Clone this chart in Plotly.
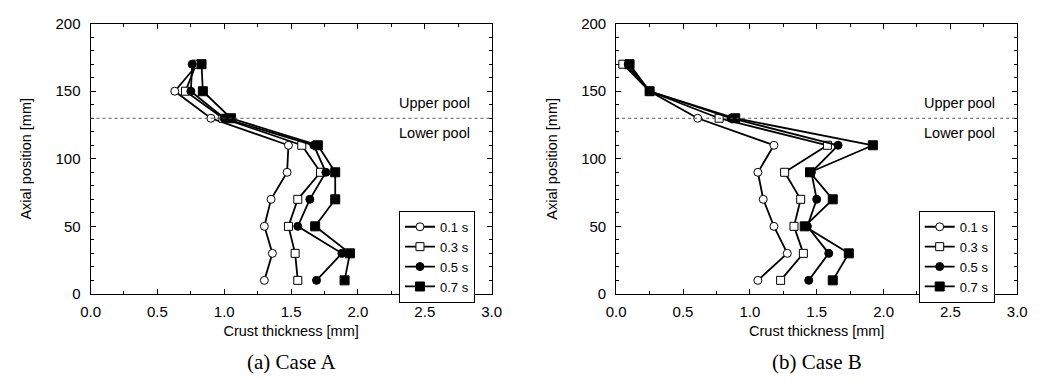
import plotly.graph_objects as go

axial = [170, 150, 130, 110, 90, 70, 50, 30, 10]
series_names = ["0.1 s", "0.3 s", "0.5 s", "0.7 s"]

case_a = {
    "0.1 s": [0.80, 0.63, 0.90, 1.48, 1.47, 1.35, 1.30, 1.36, 1.30],
    "0.3 s": [0.79, 0.71, 0.99, 1.58, 1.72, 1.55, 1.48, 1.53, 1.55],
    "0.5 s": [0.76, 0.75, 1.00, 1.67, 1.76, 1.64, 1.55, 1.88, 1.69],
    "0.7 s": [0.83, 0.84, 1.05, 1.70, 1.83, 1.83, 1.68, 1.94, 1.90],
}
case_b = {
    "0.1 s": [0.07, 0.25, 0.61, 1.18, 1.06, 1.10, 1.18, 1.28, 1.06],
    "0.3 s": [0.05, 0.25, 0.77, 1.58, 1.26, 1.38, 1.33, 1.40, 1.23],
    "0.5 s": [0.09, 0.25, 0.86, 1.66, 1.46, 1.50, 1.43, 1.59, 1.44],
    "0.7 s": [0.10, 0.25, 0.89, 1.92, 1.45, 1.62, 1.41, 1.74, 1.62],
}
pool_boundary = 130
captions = ["(a) Case A", "(b) Case B"]

styles = {
    "0.1 s": dict(symbol="circle", color="white", size=8),
    "0.3 s": dict(symbol="square", color="white", size=8),
    "0.5 s": dict(symbol="circle", color="black", size=8),
    "0.7 s": dict(symbol="square", color="black", size=9),
}

# page has an 8px body margin; figure coordinates = page coordinates - 8
OFF = 8
W, H = 1032, 376
FONT = "Liberation Sans, Arial, sans-serif"


def px(x):
    return (x - OFF) / W


def py(y):
    return 1 - (y - OFF) / H


fig = go.Figure()

panels = [
    dict(data=case_a, xa="x", ya="y", legend="legend", x0=82, x1=491, lg=474),
    dict(data=case_b, xa="x2", ya="y2", legend="legend2", x0=618, x1=1027, lg=1004),
]
y_top, y_bot = 15, 298

for p in panels:
    for name in series_names:
        st = styles[name]
        fig.add_trace(go.Scatter(
            x=p["data"][name], y=axial, mode="lines+markers", name=name,
            xaxis=p["xa"], yaxis=p["ya"], legend=p["legend"],
            line=dict(color="black", width=1.8),
            marker=dict(symbol=st["symbol"], size=st["size"], color=st["color"],
                        line=dict(color="black", width=1)),
        ))

axis_common = dict(
    showline=True, linecolor="black", linewidth=1, mirror="ticks",
    ticks="inside", ticklen=5, tickcolor="black", showgrid=False, zeroline=False,
    tickfont=dict(family=FONT, size=15, color="black"),
    ticklabeloverflow="allow",
)
ydom = [py(y_bot), py(y_top)]

layout = dict(
    width=W, height=H, margin=dict(l=0, r=0, t=0, b=0),
    paper_bgcolor="white", plot_bgcolor="white",
    font=dict(family=FONT, color="black"),
)
for i, p in enumerate(panels):
    sfx = "" if i == 0 else "2"
    layout["xaxis" + sfx] = dict(
        axis_common, domain=[px(p["x0"]), px(p["x1"])], range=[0, 3], dtick=0.5,
        tickformat=".1f", anchor="y" + sfx, ticklabelstandoff=4,
        minor=dict(dtick=0.25, ticks="inside", ticklen=3, tickcolor="black"),
        title=dict(text="Crust thickness [mm]", font=dict(family=FONT, size=14.5), standoff=6),
    )
    layout["yaxis" + sfx] = dict(
        axis_common, domain=ydom, range=[0, 200], dtick=50, anchor="x" + sfx,
        ticklabelstandoff=6,
        minor=dict(dtick=10, ticks="inside", ticklen=3, tickcolor="black"),
        title=dict(text="Axial position [mm]", font=dict(family=FONT, size=14.5), standoff=20),
    )
    layout["legend" + ("" if i == 0 else "2")] = dict(
        x=px(p["lg"]), xanchor="right", y=py(211), yanchor="top",
        bgcolor="white", bordercolor="black", borderwidth=1,
        font=dict(family=FONT, size=13, color="black"),
        tracegroupgap=0, itemwidth=30,
    )

fig.update_layout(**layout)

shapes, annotations = [], []
for i, p in enumerate(panels):
    sfx = "" if i == 0 else "2"
    shapes.append(dict(type="line", xref="x" + sfx, yref="y" + sfx, x0=0, x1=3,
                       y0=pool_boundary, y1=pool_boundary,
                       line=dict(color="#555555", width=1, dash="dot")))
    annotations.append(dict(xref="x" + sfx, yref="y" + sfx, x=2.57, y=pool_boundary,
                            xanchor="center", yanchor="middle",
                            yshift=15, text="Upper pool", showarrow=False,
                            font=dict(family=FONT, size=14.5, color="black")))
    annotations.append(dict(xref="x" + sfx, yref="y" + sfx, x=2.57, y=pool_boundary,
                            xanchor="center", yanchor="middle",
                            yshift=-15, text="Lower pool", showarrow=False,
                            font=dict(family=FONT, size=14.5, color="black")))
    annotations.append(dict(xref="paper", yref="paper", x=px((p["x0"] + p["x1"]) / 2),
                            xanchor="center", y=py(369), yanchor="middle",
                            text=captions[i], showarrow=False,
                            font=dict(family="Liberation Serif, Times New Roman, serif",
                                      size=21, color="black")))
fig.update_layout(shapes=shapes, annotations=annotations)

fig.write_html("out.html")
